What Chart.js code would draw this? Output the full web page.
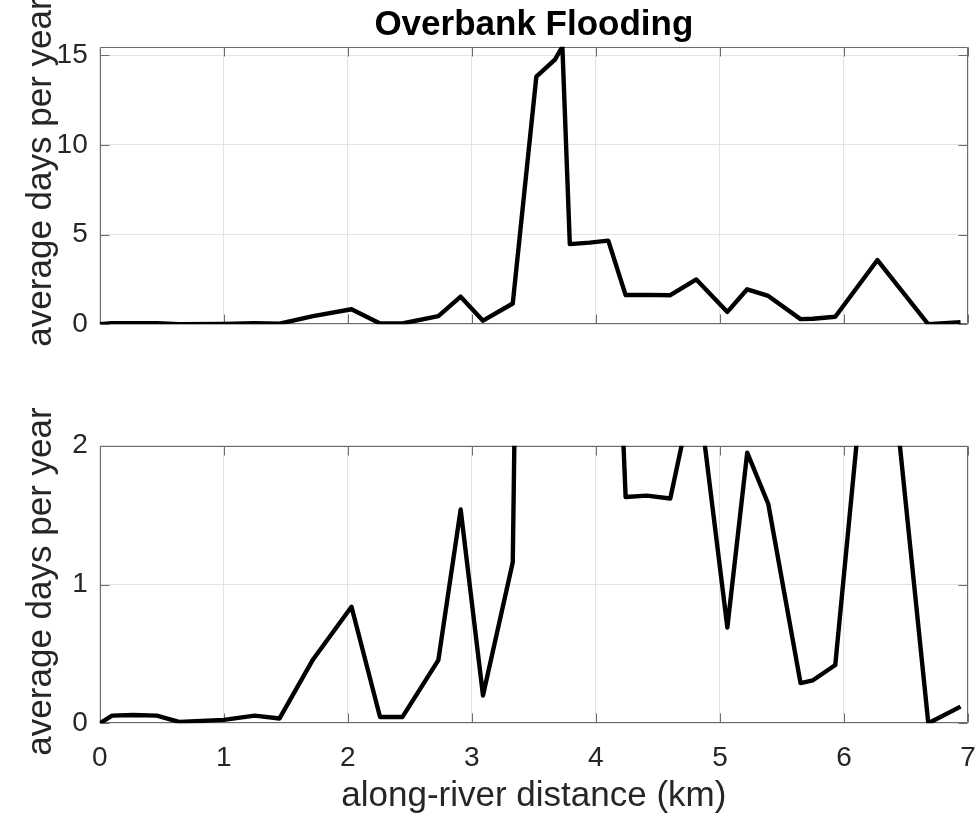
<!DOCTYPE html>
<html><head><meta charset="utf-8">
<script src="https://cdn.jsdelivr.net/npm/chart.js@4.4.0/dist/chart.umd.min.js"></script>
<style>
html,body{margin:0;padding:0;background:#fff;width:979px;height:820px;overflow:hidden}
#c1{position:absolute;left:0;top:0}
#c2{position:absolute;left:0;top:400px}
</style></head><body>
<canvas id="c1" width="979" height="400"></canvas>
<canvas id="c2" width="979" height="420"></canvas>
<script>
// ---- data ----
const distanceKm = [0, 0.1, 0.27, 0.46, 0.64, 1.0, 1.25, 1.45, 1.72, 2.03, 2.26, 2.44, 2.73, 2.91, 3.09, 3.33,
  3.52, 3.67, 3.73, 3.79, 3.95, 4.10, 4.24, 4.41, 4.60, 4.81, 5.06, 5.22, 5.39, 5.65, 5.75, 5.93, 6.27, 6.68, 6.94];
const daysPerYear = [0, 0.055, 0.06, 0.055, 0.01, 0.025, 0.055, 0.035, 0.46, 0.84, 0.045, 0.045, 0.455, 1.54, 0.2, 1.16,
  13.8, 14.75, 15.47, 4.47, 4.55, 4.66, 1.63, 1.64, 1.62, 2.5, 0.69, 1.95, 1.58, 0.29, 0.31, 0.42, 3.58, 0, 0.12];
const xTickValues = [0, 1, 2, 3, 4, 5, 6, 7];
const topYTickValues = [0, 5, 10, 15];
const bottomYTickValues = [0, 1, 2];
const titleText = 'Overbank Flooding';
const yLabelText = 'average days per year';
const xLabelText = 'along-river distance (km)';

const FONT = "'Liberation Sans', Arial, sans-serif";
Chart.defaults.font.family = FONT;
const TXT = '#262626';
const GRID = '#e3e3e3';
const BOX = '#6b6b6b';

const boxPlugin = {
  id: 'matlabBox',
  beforeDatasetsDraw(chart) {
    const {ctx, chartArea: a, scales} = chart;
    const L = 9;
    const l = Math.round(a.left) + 0.5, r = Math.round(a.right) - 0.5;
    const t = Math.round(a.top) + 0.5, b = Math.round(a.bottom) - 0.5;
    ctx.save();
    ctx.strokeStyle = BOX;
    ctx.lineWidth = 1;
    ctx.beginPath();
    scales.x.ticks.forEach(tk => {
      const p = Math.round(scales.x.getPixelForValue(tk.value)) + 0.5;
      ctx.moveTo(p, b); ctx.lineTo(p, b - L);
      ctx.moveTo(p, t); ctx.lineTo(p, t + L);
    });
    scales.y.ticks.forEach(tk => {
      const p = Math.round(scales.y.getPixelForValue(tk.value)) + 0.5;
      ctx.moveTo(l, p); ctx.lineTo(l + L, p);
      ctx.moveTo(r, p); ctx.lineTo(r - L, p);
    });
    ctx.rect(l, t, r - l, b - t);
    ctx.stroke();
    ctx.restore();
  }
};

function zeroPad(s) { s.paddingLeft = 0; s.paddingRight = 0; s.paddingTop = 0; s.paddingBottom = 0; }

function shiftTitle(s, dy) {
  if (s._titleShifted) return;
  const orig = s.drawTitle;
  s.drawTitle = function () {
    this.ctx.save();
    this.ctx.translate(0, dy);
    orig.call(this);
    this.ctx.restore();
  };
  s._titleShifted = true;
}

function makeChart(id, opts) {
  const points = distanceKm.map((d, i) => ({x: d, y: daysPerYear[i]}));
  return new Chart(document.getElementById(id), {
    type: 'line',
    data: {datasets: [{
      data: points,
      borderColor: '#000',
      borderWidth: 4.4,
      pointRadius: 0,
      tension: 0,
      borderJoinStyle: 'round',
      fill: false
    }]},
    plugins: [boxPlugin],
    options: {
      responsive: false,
      animation: false,
      devicePixelRatio: 1,
      layout: {padding: {left: 0, right: 11, top: opts.padTop, bottom: 0}},
      plugins: {
        legend: {display: false},
        tooltip: {enabled: false},
        title: {
          display: opts.showTitle,
          text: titleText,
          fullSize: false,
          color: '#000',
          font: {size: 35, weight: 'bold', family: FONT},
          padding: {top: 4.5, bottom: 0.2}
        }
      },
      scales: {
        x: {
          type: 'linear', min: 0, max: 7,
          afterBuildTicks: s => { s.ticks = xTickValues.map(v => ({value: v})); },
          ticks: {display: opts.showX, color: TXT, font: {size: 28}, padding: 18, maxRotation: 0, autoSkip: false},
          grid: {color: GRID, lineWidth: 1, drawTicks: false},
          border: {display: false},
          title: {display: opts.showX, text: xLabelText, color: TXT, font: {size: 35}, padding: {top: 0, bottom: 3}},
          afterFit: s => { s.height = opts.xHeight; zeroPad(s); }
        },
        y: {
          type: 'linear', min: 0, max: opts.yMax,
          afterBuildTicks: s => { s.ticks = opts.yTicks.map(v => ({value: v})); },
          ticks: {color: TXT, font: {size: 28}, padding: 12, autoSkip: false},
          grid: {color: GRID, lineWidth: 1, drawTicks: false},
          border: {display: false},
          title: {display: true, text: yLabelText, color: TXT, font: {size: 35}, padding: {top: 20, bottom: 0}},
          afterFit: s => { s.width = 99.7; zeroPad(s); shiftTitle(s, opts.yTitleShift); }
        }
      }
    }
  });
}

makeChart('c1', {padTop: 0, showTitle: true, showX: false, xHeight: 75.7, yMax: 15.47, yTicks: topYTickValues, yTitleShift: -13});
makeChart('c2', {padTop: 45.7, showTitle: false, showX: true, xHeight: 96.7, yMax: 2, yTicks: bottomYTickValues, yTitleShift: -3});
</script>
</body></html>
